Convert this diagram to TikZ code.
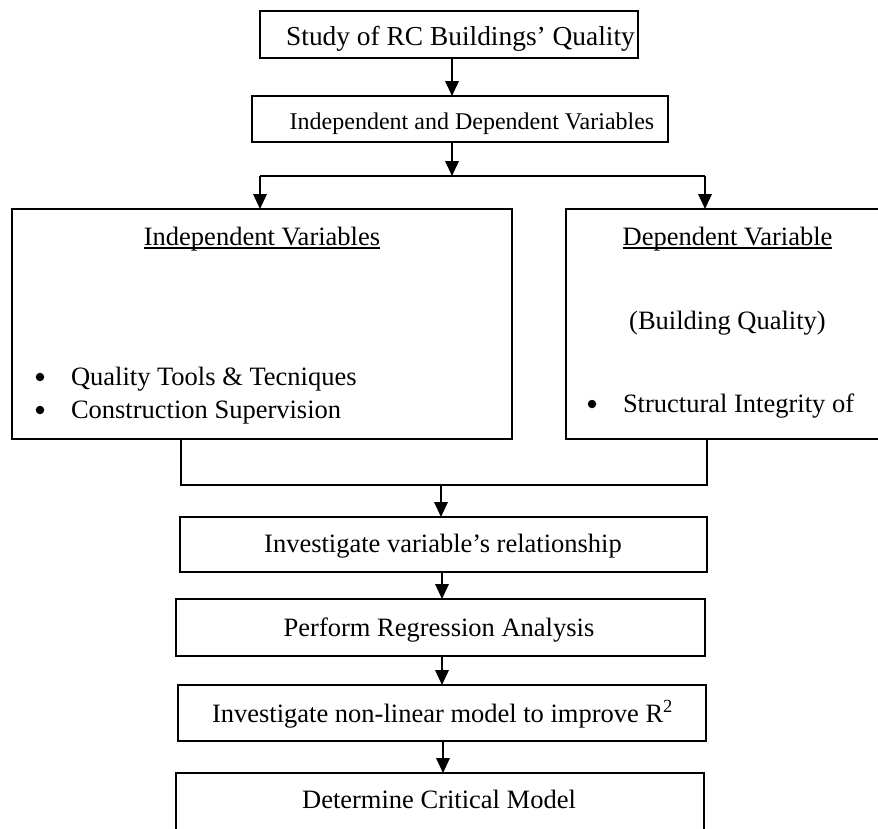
\documentclass[tikz,border=0pt]{standalone}
\usepackage{fontspec}
\setmainfont{Liberation Serif}
\usetikzlibrary{arrows.meta}
\begin{document}
\begin{tikzpicture}[x=1pt,y=-1pt,
  frame/.style={draw, line width=1.8pt, inner sep=0pt, outer sep=0pt},
  lbl/.style={inner sep=0pt, outer sep=0pt, anchor=base, font=\fontsize{26.5}{30}\selectfont},
  lblw/.style={lbl, anchor=base west},
  dot/.style={circle, fill, inner sep=0pt, minimum size=8.5pt},
  link/.style={line width=1.9pt},
  arr/.style={link, -{Triangle[length=15pt,width=13.5pt]}},
  uline/.style={line width=1.4pt}]
\clip (0,0) rectangle (878,828);

% flow boxes
\node[frame, minimum width=378, minimum height=47] (b1) at (449,34.5) {};
\node[frame, minimum width=416, minimum height=46] (b2) at (460,119) {};
\node[frame, minimum width=500, minimum height=230] (iv) at (262,324) {};
\node[frame, minimum width=334, minimum height=230] (dv) at (733,324) {};
\node[frame, minimum width=527, minimum height=55] (b3) at (443.5,544.5) {};
\node[frame, minimum width=529, minimum height=57] (b4) at (440.5,627.5) {};
\node[frame, minimum width=528, minimum height=56] (b5) at (442,713) {};
\node[frame, minimum width=528, minimum height=100] (b6) at (440,823) {};

% texts
\node[lbl, font=\fontsize{27.4}{30}\selectfont] (t1) at (460.5,45) {Study of RC Buildings’ Quality};
\node[lbl, font=\fontsize{24}{28}\selectfont] (t2) at (472,129) {Independent and Dependent Variables};
\node[lbl] (ivt) at (262,245) {Independent Variables};
\node[dot] (ivb1) at (40,377) {};
\node[lblw] (ivi1) at (71,385) {Quality Tools \& Tecniques};
\node[dot] (ivb2) at (40,410) {};
\node[lblw] (ivi2) at (71,418) {Construction Supervision};
\node[lbl] (dvt) at (727.5,245) {Dependent Variable};
\node[lbl] (dvs) at (727.5,329) {(Building Quality)};
\node[dot] (dvb1) at (592,404) {};
\node[lblw] (dvi1) at (623,412) {Structural Integrity of};
\node[lbl] (t3) at (443,552) {Investigate variable’s relationship};
\node[lbl] (t4) at (439,636) {Perform Regression Analysis};
\node[lbl] (t5) at (442.5,722) {Investigate non-linear model to improve R\textsuperscript{2}};
\node[lbl] (t6) at (439,808) {Determine Critical Model};

% underlined headings
\draw[uline] ([yshift=-3pt]ivt.base west) -- ([yshift=-3pt]ivt.base east);
\draw[uline] ([yshift=-3pt]dvt.base west) -- ([yshift=-3pt]dvt.base east);

% junction points
\coordinate (top) at (452,0);
\coordinate (jl) at (260,176);
\coordinate (jm) at (452,176);
\coordinate (jr) at (705,176);
\coordinate (ml) at (181,485);
\coordinate (mm) at (441,485);
\coordinate (mr) at (707,485);
\coordinate (c3) at (442,0);

% connectors
\draw[arr] (b1.south -| top) -- (b2.north -| top);
\draw[arr] (b2.south -| jm) -- (jm);
\draw[link] (jl) -- (jr);
\draw[arr] (jl) -- (iv.north -| jl);
\draw[arr] (jr) -- (dv.north -| jr);
\draw[link] (iv.south -| ml) -- (ml) -- (mr) -- (dv.south -| mr);
\draw[arr] (mm) -- (b3.north -| mm);
\draw[arr] (b3.south -| c3) -- (b4.north -| c3);
\draw[arr] (b4.south -| c3) -- (b5.north -| c3);
\draw[arr] ([xshift=1pt]b5.south -| c3) -- ([xshift=1pt]b6.north -| c3);
\end{tikzpicture}
\end{document}
